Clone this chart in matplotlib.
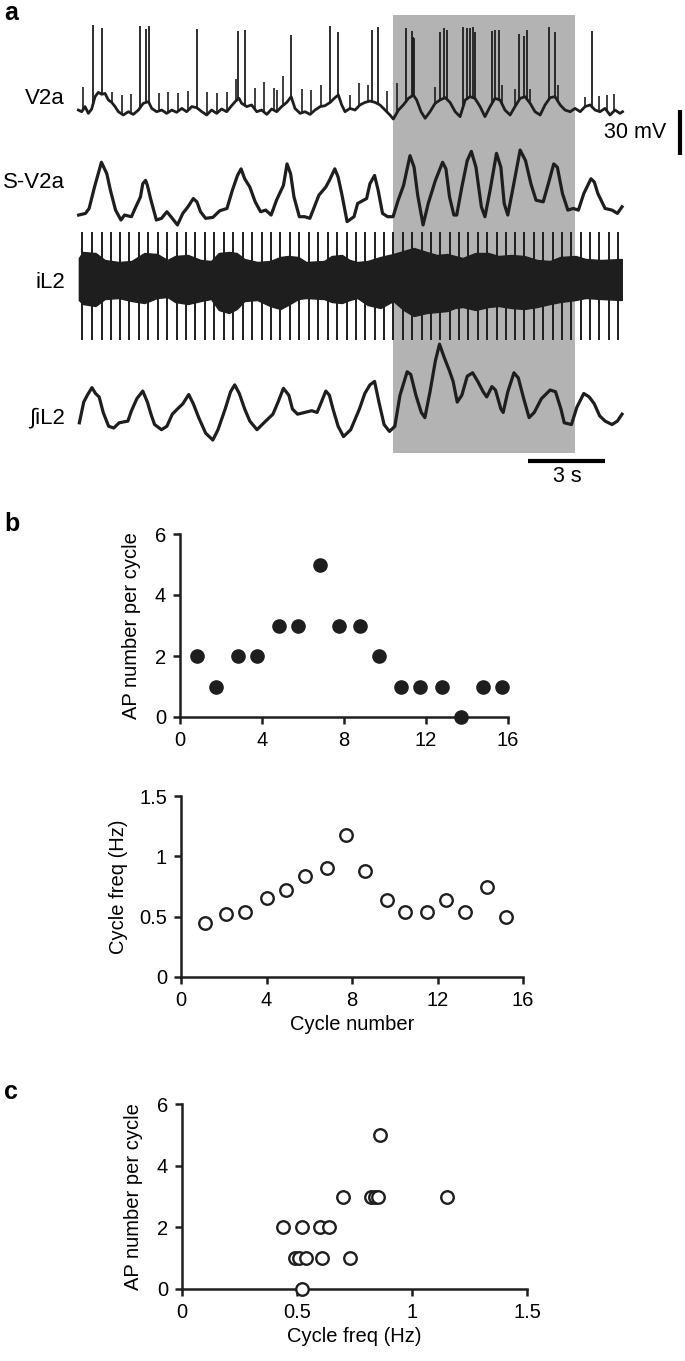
import numpy as np
import matplotlib
matplotlib.use("Agg")
import matplotlib.pyplot as plt
from matplotlib.patches import Rectangle

plt.rcParams.update({
    "font.family": ["Liberation Sans", "DejaVu Sans"],
    "font.size": 14.5,
    "axes.linewidth": 1.7,
})

W, H = 685, 1361
ink = "#1e1e1e"

# ---------------- panel a data (time in s) ----------------
# V2a membrane potential: slow baseline (mV above rest) + action potentials
v2a_t = [0.13, 0.26, 0.39, 0.52, 0.65, 0.78, 0.91, 1.04, 1.17, 1.30, 1.43, 1.56, 1.69, 1.88,
         2.08, 2.27, 2.47, 2.66, 2.86, 2.99, 3.18, 3.38, 3.57, 3.77, 3.96, 4.16, 4.35, 4.55,
         4.74, 4.94, 5.13, 5.32, 5.52, 5.71, 5.91, 6.10, 6.26, 6.39, 6.49, 6.69, 6.88, 7.08,
         7.27, 7.47, 7.66, 7.86, 8.05, 8.25, 8.42, 8.57, 8.77, 8.96, 9.16, 9.35, 9.55, 9.74,
         9.94, 10.13, 10.26, 10.39,
         10.52, 10.71, 10.91, 11.10, 11.30, 11.49, 11.69, 11.88, 12.08, 12.27, 12.40, 12.60,
         12.79, 12.99, 13.18, 13.31, 13.48, 13.64, 13.83, 14.03, 14.22, 14.42, 14.61, 14.81,
         15.00, 15.20, 15.39, 15.58, 15.78, 15.97, 16.17, 16.36, 16.56, 16.75, 16.95, 17.14,
         17.34, 17.53, 17.73, 17.92, 18.12, 18.31, 18.51, 18.70, 18.90, 19.09, 19.29, 19.48,
         19.68, 19.87, 20.07, 20.26, 20.45, 20.65, 20.84, 21.04, 21.23, 21.33]
v2a_v = [1.3, 0.2, 3.6, -0.9, 2.0, 10.2, 13.1, 11.8, 12.4, 8.0, 6.4, 3.6, 0.2, -2.0,
         0.2, -1.6, 1.3, 5.8, 6.9, 2.4, 0.2, 1.3, -0.9, 1.3, -0.2, 2.4, 0.2, 3.6,
         2.9, 0.2, -2.0, 1.3, -0.9, 2.0, 0.2, 4.2, 7.3, 9.1, 5.8, 3.6, 4.7, 0.2,
         1.3, -1.6, 2.0, 0.2, 3.6, 6.4, 10.2, 2.4, -0.9, 0.2, -1.6, 1.3, 3.6, 4.2,
         6.4, 9.6, 11.3, 4.7,
         0.2, 2.4, 1.3, 4.7, 6.4, 7.3, 6.4, 4.7, 1.3, -2.0, -4.7, 1.3,
         4.7, 9.1, 11.3, 8.0, 0.2, -4.2, 0.2, 5.8, 8.0, 9.6, 6.4, 0.2,
         -3.1, 8.0, 10.2, 9.1, 3.6, -3.1, 3.6, 9.1, 8.0, 1.3, -2.0, 3.6,
         9.1, 10.2, 5.8, 0.2, -2.0, 4.7, 9.6, 10.2, 4.7, 1.3, 0.2, 2.4,
         0.2, 3.6, 4.7, 1.3, 0.2, 2.4, -2.0, 1.3, -0.9, 0.2]
spike_t = [0.71, 1.06, 2.53, 2.77, 2.90, 4.75, 6.35, 6.62, 8.42, 9.95, 10.26,
           11.56, 11.79, 12.90, 13.12, 13.18, 13.22, 14.20, 14.39, 14.48, 15.12, 15.26,
           15.39, 15.51, 15.59, 16.25, 16.36, 16.52, 17.29, 17.49, 17.60, 18.47, 18.70, 20.13]
spike_v = [58.0, 55.8, 57.3, 55.3, 57.3, 55.3, 54.0, 54.7, 51.3, 57.6, 53.6,
           54.7, 56.4, 55.8, 54.2, 50.2, 49.1, 53.1, 55.8, 54.7, 56.9, 55.8,
           55.8, 56.4, 53.1, 54.2, 54.7, 54.7, 52.0, 50.9, 54.7, 56.9, 53.1, 54.0]
psp_t = [0.32, 1.43, 1.82, 2.18, 3.27, 3.64, 4.03, 4.39, 5.14, 5.52, 5.91, 6.27, 7.01,
         7.38, 7.74, 7.87, 8.10, 8.84, 9.21, 9.58, 10.71, 11.07, 11.43, 12.17, 12.56,
         14.03, 16.62, 17.14, 17.74, 18.83, 19.87, 20.42, 20.71, 21.01]
psp_v = [16.9, 13.6, 11.3, 11.8, 12.4, 13.1, 12.4, 14.0, 13.6, 12.4, 13.6, 22.0, 15.8,
         19.8, 15.8, 14.7, 24.2, 15.3, 14.7, 18.0, 11.3, 19.1, 18.0, 14.0, 19.1,
         16.9, 18.0, 15.3, 15.3, 18.0, 10.2, 10.9, 11.3, 11.8]

# S-V2a (smoothed V2a), arbitrary units
sv2a_t = [0.14, 0.41, 0.55, 0.76, 1.03, 1.24, 1.38, 1.58, 1.79, 1.93, 2.20, 2.34, 2.55, 2.64,
          2.75, 2.82, 2.96, 3.17, 3.37, 3.58, 3.79, 3.99, 4.20, 4.40, 4.61, 4.75, 4.89, 5.09,
          5.37, 5.64, 5.92, 6.13, 6.33, 6.47, 6.61, 6.81, 7.02, 7.23, 7.43, 7.64, 7.85, 8.12,
          8.26, 8.40, 8.53, 8.74, 8.95, 9.15, 9.50, 9.77, 9.91, 10.12, 10.25, 10.39, 10.60,
          10.87, 11.01, 11.36, 11.49, 11.67, 11.81, 11.98, 12.18, 12.39, 12.59, 12.80, 13.05,
          13.21, 13.35, 13.56, 13.76, 14.04, 14.32, 14.45, 14.59, 14.76, 14.87, 15.07, 15.28,
          15.44, 15.62, 15.83, 15.97, 16.17, 16.42, 16.59, 16.72, 16.86, 17.07, 17.34, 17.55,
          17.76, 17.96, 18.24, 18.44, 18.65, 18.79, 18.99, 19.20, 19.41, 19.61, 19.82, 20.10,
          20.23, 20.37, 20.65, 20.92, 21.13, 21.31]
sv2a_v = [3.5, 4.0, 5.5, 12.0, 19.5, 16.0, 11.0, 5.0, 2.0, 3.5, 3.0, 5.5, 9.0, 13.0,
          14.0, 12.5, 8.0, 2.0, 2.5, 4.5, 2.5, 0.5, 4.0, 6.0, 8.5, 7.5, 4.5, 2.5,
          2.8, 4.8, 5.5, 11.0, 15.5, 17.5, 14.5, 12.0, 7.5, 4.5, 5.0, 3.5, 8.0, 12.5,
          19.0, 16.0, 9.0, 3.0, 3.0, 2.5, 9.5, 12.0, 14.0, 17.5, 15.0, 10.0, 1.5,
          3.0, 7.0, 8.5, 13.0, 15.5, 11.0, 4.0, 3.0, 3.0, 8.0, 12.5, 21.5,
          18.0, 9.5, 0.5, 7.0, 14.0, 19.5, 17.5, 9.0, 3.5, 3.5, 12.0, 20.0,
          22.8, 18.0, 6.0, 3.0, 11.0, 22.2, 18.0, 7.0, 3.5, 12.0, 23.2, 20.0,
          13.0, 8.0, 7.5, 13.0, 19.0, 18.0, 10.0, 5.0, 5.5, 5.0, 10.0, 14.5,
          13.5, 10.0, 5.5, 5.0, 4.0, 6.0]

# iL2 ventral root: burst envelope (px above / below band centre) and artefact times
il2_t = [0.15, 0.3, 0.8, 1.16, 1.7, 2.2, 2.7, 3.2, 3.6, 3.9, 4.4, 4.9, 5.3, 5.6, 6.0, 6.3,
         6.6, 7.1, 7.6, 8.0, 8.3, 8.7, 9.0, 9.7, 10.0, 10.4, 10.7, 11.0, 11.4, 11.9, 12.4,
         12.8, 13.2, 13.7, 14.1, 14.5, 14.8, 15.1, 15.6, 16.1, 16.5, 17.0, 17.5, 18.0, 18.5,
         18.9, 19.5, 19.9, 20.5, 21.3]
il2_up = [22, 28, 27, 20, 18, 19, 27, 26, 20, 24, 25, 20, 19, 27, 28, 27,
          21, 18, 19, 23, 24, 23, 18, 19, 24, 25, 20, 18, 19, 23, 26,
          29, 32, 28, 25, 26, 24, 22, 27, 27, 24, 25, 24, 20, 19,
          23, 24, 21, 20, 21]
il2_dn = [20, 24, 26, 19, 18, 21, 23, 18, 17, 22, 24, 21, 19, 30, 33, 29,
          21, 20, 26, 29, 25, 19, 18, 19, 22, 23, 20, 18, 25, 28, 21,
          30, 36, 33, 32, 31, 28, 27, 30, 27, 26, 28, 29, 27, 24,
          22, 20, 18, 19, 20]
artefact_t = [0.29, 0.65, 1.04, 1.40, 1.75, 2.10, 2.49, 2.86, 3.22, 3.60, 3.96, 4.32, 4.68,
              5.06, 5.43, 5.81, 6.17, 6.53, 6.90, 7.27, 7.64, 8.00, 8.38, 8.74, 9.12, 9.48,
              9.84, 10.22, 10.58, 10.94, 11.31, 11.67, 12.04, 12.40, 12.77, 13.13, 13.50,
              13.86, 14.23, 14.59, 14.96, 15.32, 15.69, 16.05, 16.42, 16.78, 17.15, 17.51,
              17.88, 18.24, 18.61, 18.97, 19.34, 19.70, 20.07, 20.43, 20.80, 21.16]

# integrated iL2, arbitrary units
iil2_t = [0.17, 0.34, 0.48, 0.66, 0.80, 0.94, 1.10, 1.31, 1.51, 1.72, 2.06, 2.20, 2.41, 2.64,
          2.82, 2.96, 3.10, 3.37, 3.58, 3.79, 3.99, 4.20, 4.43, 4.61, 4.82, 5.09, 5.37, 5.57,
          5.85, 6.06, 6.22, 6.40, 6.61, 6.81, 7.09, 7.36, 7.71, 7.91, 8.12, 8.33, 8.47, 8.67,
          8.95, 9.22, 9.43, 9.57, 9.77, 9.91, 10.05, 10.25, 10.46, 10.74, 11.08, 11.29, 11.49,
          11.67, 11.84, 12.04, 12.25, 12.46, 12.66, 12.94, 13.08, 13.28, 13.49, 13.63, 13.83,
          14.04, 14.20, 14.38, 14.59, 14.73, 14.89, 15.07, 15.28, 15.49, 15.69, 15.90, 16.04,
          16.24, 16.38, 16.59, 16.68, 16.86, 17.10, 17.27, 17.48, 17.69, 17.89, 18.17, 18.51,
          18.72, 18.93, 19.06, 19.34, 19.55, 19.82, 20.03, 20.23, 20.44, 20.65, 20.92, 21.13,
          21.31]
iil2_v = [6.0, 12.0, 14.0, 16.2, 14.5, 13.5, 9.0, 5.0, 4.5, 6.0, 6.5, 9.5, 13.0, 15.2,
          12.0, 8.5, 5.5, 4.0, 5.0, 8.5, 10.0, 11.5, 14.2, 11.5, 7.5, 3.0, 1.0, 4.0,
          10.0, 15.0, 17.0, 14.5, 10.0, 6.5, 4.0, 6.0, 8.5, 12.0, 16.0, 14.0, 10.0, 8.5,
          9.0, 9.5, 9.0, 11.5, 15.2, 14.0, 10.0, 5.0, 2.0, 4.0, 10.0, 14.5, 17.0,
          18.0, 12.0, 5.5, 3.5, 5.0, 14.0, 20.8, 20.0, 14.0, 9.0, 7.5, 15.0,
          24.0, 28.8, 25.0, 21.0, 18.0, 12.0, 14.0, 19.5, 20.5, 18.0, 15.0, 13.5,
          16.5, 15.5, 10.0, 9.0, 15.0, 20.5, 19.0, 13.0, 7.5, 9.0, 13.0, 15.5,
          15.0, 10.0, 6.0, 5.5, 10.5, 14.5, 13.5, 11.5, 8.0, 6.5, 5.5, 6.5,
          8.5]

shade_t = (12.39, 19.48)   # highlighted epoch

# ---------------- panel b / c data ----------------
cycle_ap = [0.84, 1.76, 2.84, 3.74, 4.85, 5.74, 6.83, 7.76, 8.78, 9.72, 10.8, 11.7, 12.8, 13.7, 14.8, 15.7]
ap_count = [2, 1, 2, 2, 3, 3, 5, 3, 3, 2, 1, 1, 1, 0, 1, 1]
cycle_fq = [1.1, 2.12, 3.0, 4.03, 4.92, 5.8, 6.82, 7.72, 8.6, 9.62, 10.5, 11.5, 12.4, 13.3, 14.3, 15.2]
cycle_freq = [0.45, 0.52, 0.54, 0.655, 0.725, 0.835, 0.90, 1.177, 0.878, 0.638, 0.541, 0.541,
              0.638, 0.541, 0.749, 0.497]
c_freq = [0.44, 0.52, 0.60, 0.64, 0.49, 0.51, 0.54, 0.61, 0.73, 0.52, 0.70, 0.82, 0.84, 0.85, 1.15, 0.86]
c_ap = [2, 2, 2, 2, 1, 1, 1, 1, 1, 0, 3, 3, 3, 3, 3, 5]


def fx(px):
    return px / W


def fy(py):
    return 1 - py / H


def box(l, t, r, b):
    return [fx(l), fy(b), (r - l) / W, (b - t) / H]


fig = plt.figure(figsize=(W / 100, H / 100), dpi=100)

# ---------------- panel a ----------------
sec = 25.67        # px per second
t0 = 75            # px of t = 0
axa = fig.add_axes([0, fy(490), 1, 490 / H])
axa.set_xlim(-t0 / sec, (W - t0) / sec)
axa.set_ylim(490, 0)
axa.axis("off")

axa.add_patch(Rectangle((shade_t[0], 15), shade_t[1] - shade_t[0], 438,
                        facecolor="#b3b3b3", edgecolor="none", zorder=0))

# V2a: 1.5 px per mV, rest at y=112
v2a_base, v2a_k = 112, 1.5
axa.plot(v2a_t, v2a_base - v2a_k * np.array(v2a_v), color=ink, lw=2.0, zorder=3)
foot = np.interp(spike_t, v2a_t, v2a_v)
axa.vlines(spike_t, v2a_base - v2a_k * foot, v2a_base - v2a_k * np.array(spike_v),
           color=ink, lw=1.3, zorder=3)
foot = np.interp(psp_t, v2a_t, v2a_v)
axa.vlines(psp_t, v2a_base - v2a_k * foot, v2a_base - v2a_k * np.array(psp_v),
           color=ink, lw=1.2, zorder=3)

# S-V2a
axa.plot(sv2a_t, 226.6 - 3.3 * np.array(sv2a_v), color=ink, lw=2.3, zorder=3)

# iL2
c_il2 = 280
axa.fill_between(il2_t, c_il2 - np.array(il2_up), c_il2 + np.array(il2_dn),
                 color=ink, lw=1.0, zorder=3)
axa.vlines(artefact_t, 232, 340, color=ink, lw=1.4, zorder=3)

# integrated iL2
axa.plot(iil2_t, 443.5 - 3.45 * np.array(iil2_v), color=ink, lw=2.3, zorder=3)

# scale bars
axa.plot([(605 - t0) / sec - 3, (605 - t0) / sec], [461, 461], color="black", lw=3, solid_capstyle="butt")
axa.plot([(680 - t0) / sec] * 2, [110, 155], color="black", lw=3, solid_capstyle="butt")
fig.text(fx(567), fy(476), "3 s", ha="center", va="center", fontsize=15.5)
fig.text(fx(666), fy(133), "30 mV", ha="right", va="center", fontsize=15.5)

for lab, yy in [("V2a", 98), ("S-V2a", 183), ("iL2", 282), ("\u222biL2", 418)]:
    fig.text(fx(65), fy(yy), lab, ha="right", va="center", fontsize=16)

fig.text(fx(4), fy(1), "a", fontsize=18, fontweight="bold", va="top")
fig.text(fx(4), fy(512), "b", fontsize=18, fontweight="bold", va="top")
fig.text(fx(4), fy(1080), "c", fontsize=18, fontweight="bold", va="top")


def style(ax):
    for s in ["top", "right"]:
        ax.spines[s].set_visible(False)
    for s in ["left", "bottom"]:
        ax.spines[s].set_linewidth(1.8)
        ax.spines[s].set_color(ink)
    ax.tick_params(direction="out", length=5, width=1.8, color=ink, labelsize=14.5, pad=5)


# ---------------- panel b top ----------------
ax1 = fig.add_axes(box(180, 534, 508, 717))
ax1.plot(cycle_ap, ap_count, "o", ms=9.5, color=ink, clip_on=False, zorder=3)
ax1.set_xlim(0, 16)
ax1.set_ylim(0, 6)
ax1.set_xticks([0, 4, 8, 12, 16])
ax1.set_yticks([0, 2, 4, 6])
ax1.set_ylabel("AP number per cycle", fontsize=14.5, labelpad=10)
style(ax1)

# ---------------- panel b bottom ----------------
ax2 = fig.add_axes(box(181, 796, 523, 977))
ax2.plot(cycle_fq, cycle_freq, "o", ms=9, mfc="white", mec=ink, mew=1.7, clip_on=False, zorder=3)
ax2.set_xlim(0, 16)
ax2.set_ylim(0, 1.5)
ax2.set_xticks([0, 4, 8, 12, 16])
ax2.set_yticks([0, 0.5, 1, 1.5])
ax2.set_yticklabels(["0", "0.5", "1", "1.5"])
ax2.set_xlabel("Cycle number", fontsize=14.5, labelpad=4)
ax2.set_ylabel("Cycle freq (Hz)", fontsize=14.5, labelpad=8)
style(ax2)

# ---------------- panel c ----------------
ax3 = fig.add_axes(box(182, 1104, 527, 1289))
ax3.plot(c_freq, c_ap, "o", ms=9, mfc="white", mec=ink, mew=1.7, clip_on=False, zorder=3)
ax3.set_xlim(0, 1.5)
ax3.set_ylim(0, 6)
ax3.set_xticks([0, 0.5, 1, 1.5])
ax3.set_xticklabels(["0", "0.5", "1", "1.5"])
ax3.set_yticks([0, 2, 4, 6])
ax3.set_xlabel("Cycle freq (Hz)", fontsize=14.5, labelpad=4)
ax3.set_ylabel("AP number per cycle", fontsize=14.5, labelpad=10)
style(ax3)

fig.savefig("out.png", dpi=100)
